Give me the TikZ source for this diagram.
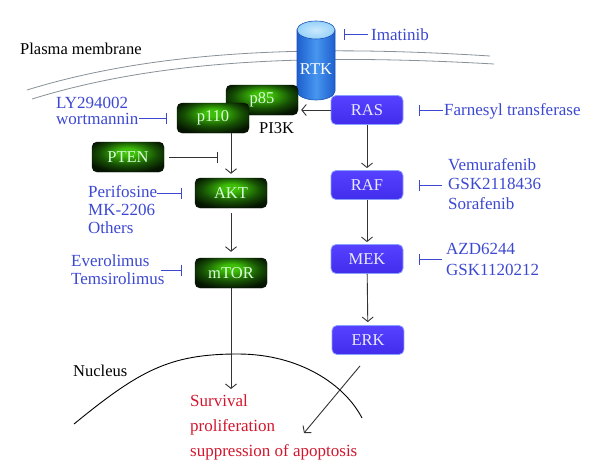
\documentclass[tikz,border=0pt]{standalone}
\usepackage{fontspec}
\setmainfont{Liberation Serif}
\usetikzlibrary{arrows.meta}
\definecolor{drugblue}{RGB}{60,72,210}
\definecolor{outred}{RGB}{210,22,45}
\definecolor{gbright}{RGB}{62,190,8}
\definecolor{gmid}{RGB}{22,80,4}
\definecolor{gdark}{RGB}{6,22,2}
\definecolor{rastop}{RGB}{85,65,255}
\definecolor{rasbot}{RGB}{65,45,235}
\definecolor{rasedge}{RGB}{140,160,255}
\definecolor{rtkmid}{RGB}{70,150,240}
\definecolor{rtkside}{RGB}{30,95,205}
\definecolor{rtkedge}{RGB}{25,80,185}
\definecolor{rtktop}{RGB}{150,210,250}
\definecolor{memgray}{RGB}{135,145,150}
\pgfdeclareradialshading{greenglow}{\pgfpoint{0bp}{10bp}}{color(0bp)=(gbright); color(6bp)=(gbright); color(20bp)=(gmid); color(30bp)=(gdark); color(50bp)=(black)}
\tikzset{gb/.append style={draw=gdark, rounded corners=5pt, minimum width=72pt, minimum height=30pt, shade, shading=greenglow, text=white!85!green, font=\rmfamily\fontsize{16.5}{18}\selectfont, inner sep=0pt}}
\tikzset{bb/.append style={draw=rasedge, line width=0.8pt, rounded corners=5pt, minimum width=72pt, minimum height=29pt, top color=rastop, bottom color=rasbot, text=white!92!blue, font=\rmfamily\fontsize{16.5}{18}\selectfont, inner sep=0pt}}
\tikzset{rtkl/.append style={text=white, font=\rmfamily\fontsize{16.5}{18}\selectfont, minimum width=38pt, minimum height=60pt, inner sep=0pt}}
\tikzset{lbl/.append style={font=\rmfamily\fontsize{16.5}{18}\selectfont, inner sep=0pt}}
\tikzset{dr/.append style={text=drugblue, align=left, inner sep=0pt, font=\rmfamily\fontsize{17}{18}\selectfont}}
\tikzset{act/.append style={-{Straight Barb[length=4.5pt,width=11pt]}, line width=0.9pt, draw=black!80}}
\tikzset{inh/.append style={-{Bar[width=11pt]}, line width=0.9pt, draw=drugblue}}

\begin{document}
\begin{tikzpicture}[x=1pt,y=-1pt]
\useasboundingbox (0,0) rectangle (600,461);
% membranes
\draw[memgray, line width=0.8pt] (27,90) .. controls (150,52) and (300,44) .. (490,56);
\draw[memgray, line width=0.8pt] (32,99) .. controls (155,61) and (300,53) .. (494,64);
\draw[line width=0.9pt] (74,424) .. controls (140,370) and (170,354) .. (238,354) .. controls (300,354) and (345,385) .. (362,418);
% RTK
\shade[left color=rtkside, right color=rtkside, middle color=rtkmid, draw=rtkedge, line width=0.6pt] (297,30) -- (297,91) arc[start angle=180, end angle=360, x radius=19pt, y radius=9pt] -- (335,30) -- cycle;
\shade[inner color=rtktop!50!white, outer color=rtktop, draw=rtkedge, line width=0.6pt] (316,30) ellipse [x radius=19pt, y radius=9pt];
\node[rtkl] (rtk) at (316,69) {RTK};

\node[gb] (p85) at (262,100) {p85};
\node[gb] (p110) at (213,118) {p110};
\node[lbl, anchor=base west] (pi3k) at (259,133) {PI3K};
\node[gb] (pten) at (128,157) {PTEN};
\node[gb] (akt) at (231,193) {AKT};
\node[gb] (mtor) at (231,273) {mTOR};
\node[bb] (ras) at (367,110) {RAS};
\node[bb] (raf) at (367,185) {RAF};
\node[bb] (mek) at (367,259) {MEK};
\node[bb] (erk) at (368,340) {ERK};

\node[lbl, anchor=base west] (pm) at (20,54) {Plasma membrane};
\node[lbl, anchor=base west] (nuc) at (73,376) {Nucleus};
\node[dr, anchor=base west] (imat) at (371,40) {Imatinib};
\node[dr, anchor=base west] (farn) at (444,115) {Farnesyl transferase};
\node[dr, anchor=north west, font=\rmfamily\fontsize{17}{16}\selectfont] (lyw) at (56,97) {LY294002\\wortmannin};
\node[dr, anchor=north west] (perif) at (88,185) {Perifosine\\MK-2206\\Others};
\node[dr, anchor=north west] (evero) at (71,255) {Everolimus\\Temsirolimus};
\node[dr, anchor=north west, font=\rmfamily\fontsize{17}{19.5}\selectfont] (vemu) at (448,158) {Vemurafenib\\GSK2118436\\Sorafenib};
\node[dr, anchor=north west, font=\rmfamily\fontsize{17}{21}\selectfont] (azd) at (446,243) {AZD6244\\GSK1120212};
\node[dr, anchor=north west, text=outred, font=\rmfamily\fontsize{17}{25}\selectfont] (outc) at (190,394) {Survival\\proliferation\\suppression of apoptosis};
\coordinate (erkin) at (304,433);

\draw[act, shorten >=3pt] (ras.west) -- (p85.east |- ras.west);
\draw[act, shorten >=2pt] (ras) -- (raf);
\draw[act, shorten >=2pt] (raf) -- (mek);
\draw[act, shorten >=3pt] (mek) -- (erk);
\draw[act, shorten >=4pt] (akt.north |- p110.south) -- (akt.north);
\draw[act, shorten <=5pt, shorten >=6pt] (akt) -- (mtor);
\draw[act, shorten >=5pt] (mtor) -- (mtor.south |- outc.north);
\draw[act] ([xshift=-8pt,yshift=-11pt]erk.south) -- (erkin);

\draw[inh, draw=black!80, shorten <=5pt, shorten >=13pt] (pten.east) -- (akt.north |- pten.east);
\draw[inh, shorten >=10pt] (lyw.east |- p110) -- (p110.west);
\draw[inh, shorten >=13pt] (perif.east |- akt) -- (akt.west);
\draw[inh, shorten <=-4pt, shorten >=13pt] (evero.east) -- (evero.east -| mtor.west);
\draw[inh, shorten <=6pt, shorten >=16pt] (vemu.west |- raf) -- (raf.east);
\draw[inh, shorten <=4pt, shorten >=16pt] (azd.west |- mek) -- (mek.east);
\draw[inh, shorten <=1pt, shorten >=16pt] (farn.west |- ras) -- (ras.east);
\draw[inh, shorten <=3pt, shorten >=9pt] (imat.west) -- (rtk.east |- imat.west);
\end{tikzpicture}
\end{document}
